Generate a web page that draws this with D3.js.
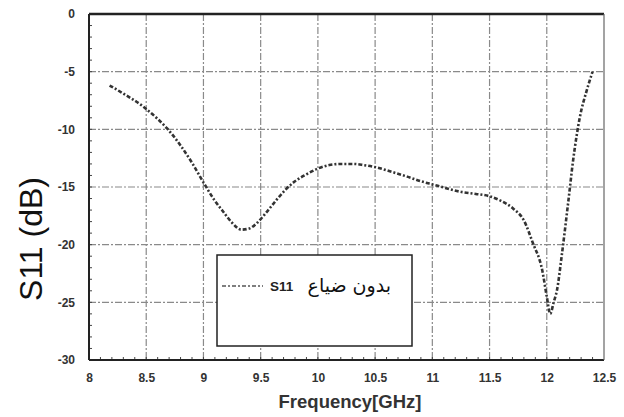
<!DOCTYPE html>
<html>
<head>
<meta charset="utf-8">
<script src="https://cdn.jsdelivr.net/npm/d3@7"></script>
<style>
  html, body { margin: 0; padding: 0; background: #fff; }
  svg { display: block; }
</style>
</head>
<body>
<svg id="chart" width="624" height="417"></svg>
<script>
// ---- data ----
const freq = [8.18, 8.3, 8.47, 8.6, 8.68, 8.8, 8.9, 9.0, 9.1, 9.17, 9.25, 9.33, 9.4, 9.47, 9.55, 9.64, 9.72, 9.8, 9.9, 10.0, 10.1, 10.2, 10.31, 10.4, 10.51, 10.65, 10.78, 10.9, 11.01, 11.12, 11.24, 11.38, 11.5, 11.6, 11.71, 11.8, 11.88, 11.96, 12.0, 12.03, 12.06, 12.09, 12.13, 12.19, 12.23, 12.29, 12.35, 12.4];
const s11  = [-6.2, -6.9, -8.0, -9.1, -9.9, -11.4, -12.9, -14.6, -16.2, -17.1, -18.1, -18.7, -18.6, -18.1, -17.2, -16.1, -15.2, -14.5, -13.9, -13.4, -13.1, -13.0, -13.0, -13.1, -13.3, -13.7, -14.1, -14.5, -14.8, -15.1, -15.4, -15.6, -15.8, -16.2, -16.9, -17.9, -19.9, -22.2, -24.5, -26.0, -25.0, -23.9, -21.0, -16.1, -12.7, -8.9, -6.6, -5.0];
const xTicks = [8, 8.5, 9, 9.5, 10, 10.5, 11, 11.5, 12, 12.5];
const xTickLabels = ["8", "8.5", "9", "9.5", "10", "10.5", "11", "11.5", "12", "12.5"];
const yTicks = [0, -5, -10, -15, -20, -25, -30];
const yTickLabels = ["0", "-5", "-10", "-15", "-20", "-25", "-30"];
const xTitle = "Frequency[GHz]";
const yTitle = "S11 (dB)";
const legendSeries = "S11";
const legendArabic = "بدون ضياع";

// ---- layout ----
const L = 89, R = 604, T = 14, B = 360;
const svg = d3.select("#chart");
const x = d3.scaleLinear().domain([8, 12.5]).range([L, R]);
const y = d3.scaleLinear().domain([-30, 0]).range([B, T]);

// grid
const grid = svg.append("g");
grid.selectAll("line.gx").data(xTicks.slice(1, -1)).join("line")
  .attr("x1", d => x(d)).attr("x2", d => x(d)).attr("y1", T).attr("y2", B)
  .attr("stroke", "#8a8a8a").attr("stroke-width", 1.2).attr("stroke-dasharray", "7,2,2,2");
grid.selectAll("line.gy").data(yTicks.slice(1, -1)).join("line")
  .attr("x1", L).attr("x2", R).attr("y1", d => y(d)).attr("y2", d => y(d))
  .attr("stroke", "#8a8a8a").attr("stroke-width", 1.2).attr("stroke-dasharray", "7,2,2,2");

// minor ticks
const minorY = d3.range(-29, 0, 1);
svg.append("g").selectAll("line").data(minorY).join("line")
  .attr("x1", L).attr("x2", L + 3).attr("y1", d => y(d)).attr("y2", d => y(d))
  .attr("stroke", "#444").attr("stroke-width", 1);
const minorX = d3.range(8.1, 12.45, 0.1);
svg.append("g").selectAll("line").data(minorX).join("line")
  .attr("x1", d => x(d)).attr("x2", d => x(d)).attr("y1", B).attr("y2", B - 3)
  .attr("stroke", "#444").attr("stroke-width", 1);

// frame
svg.append("line").attr("x1", L).attr("x2", R).attr("y1", T).attr("y2", T).attr("stroke", "#222").attr("stroke-width", 2.5);
svg.append("line").attr("x1", L).attr("x2", L).attr("y1", T).attr("y2", B).attr("stroke", "#222").attr("stroke-width", 2);
svg.append("line").attr("x1", L).attr("x2", R).attr("y1", B).attr("y2", B).attr("stroke", "#222").attr("stroke-width", 2);
svg.append("line").attr("x1", R).attr("x2", R).attr("y1", T).attr("y2", B).attr("stroke", "#666").attr("stroke-width", 1.2);

// axes (labels only)
const xAxis = d3.axisBottom(x).tickValues(xTicks).tickFormat((d, i) => xTickLabels[i]).tickSize(0).tickPadding(13);
const gx = svg.append("g").attr("transform", `translate(0,${B})`).call(xAxis);
gx.select(".domain").remove();
gx.selectAll("text").attr("font-family", "Liberation Sans, Arial, sans-serif").attr("font-size", 12).attr("font-weight", "bold").attr("fill", "#333");

const yAxis = d3.axisLeft(y).tickValues(yTicks).tickFormat((d, i) => yTickLabels[i]).tickSize(0).tickPadding(14);
const gy = svg.append("g").attr("transform", `translate(${L},0)`).call(yAxis);
gy.select(".domain").remove();
gy.selectAll("text").attr("font-family", "Liberation Sans, Arial, sans-serif").attr("font-size", 12).attr("font-weight", "bold").attr("fill", "#333");

// curve
const pts = freq.map((f, i) => [f, s11[i]]);
const line = d3.line().x(d => x(d[0])).y(d => y(d[1])).curve(d3.curveMonotoneX);
svg.append("path").attr("d", line(pts)).attr("fill", "none")
  .attr("stroke", "#333").attr("stroke-width", 2.6).attr("stroke-dasharray", "4,2,2,2");

// legend
const lg = svg.append("g");
lg.append("rect").attr("x", 217).attr("y", 255).attr("width", 195).attr("height", 91)
  .attr("fill", "#fff").attr("stroke", "#222").attr("stroke-width", 1.5);
lg.append("line").attr("x1", 222).attr("x2", 263).attr("y1", 286).attr("y2", 286)
  .attr("stroke", "#555").attr("stroke-width", 1.6).attr("stroke-dasharray", "4,2,2,2");
lg.append("text").attr("x", 270).attr("y", 291).text(legendSeries)
  .attr("font-family", "Liberation Sans, Arial, sans-serif").attr("font-size", 13.5).attr("font-weight", "bold").attr("fill", "#222");
lg.append("text").attr("x", 391).attr("y", 292).attr("text-anchor", "end").text(legendArabic)
  .attr("font-family", "DejaVu Sans, sans-serif").attr("font-size", 19).attr("fill", "#111");

// titles
svg.append("text").attr("x", 350).attr("y", 408).attr("text-anchor", "middle").text(xTitle)
  .attr("font-family", "Liberation Sans, Arial, sans-serif").attr("font-size", 18.5).attr("font-weight", "bold").attr("fill", "#333");
svg.append("text").attr("transform", "translate(42,239) rotate(-90)").attr("text-anchor", "middle").text(yTitle)
  .attr("font-family", "Liberation Sans, Arial, sans-serif").attr("font-size", 32).attr("fill", "#111");
</script>
</body>
</html>
